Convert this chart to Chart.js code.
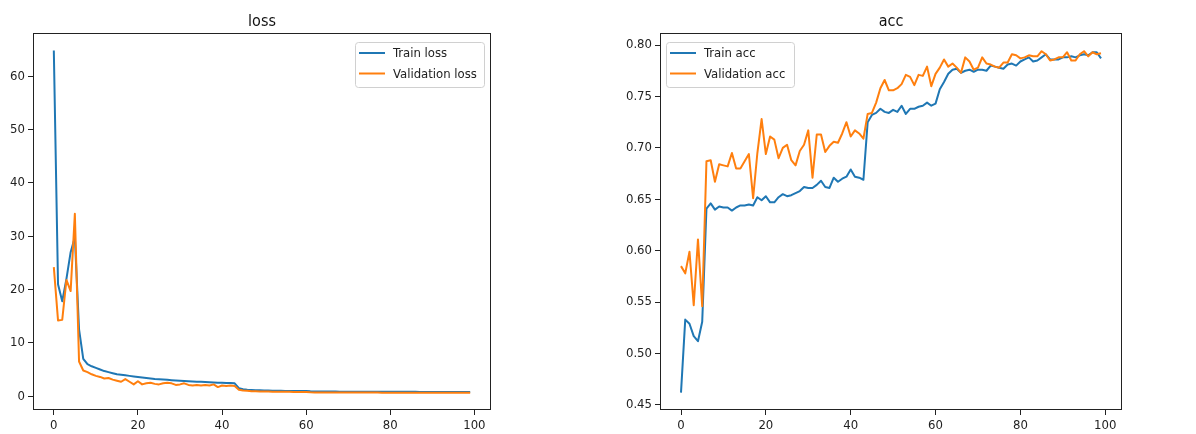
<!DOCTYPE html>
<html>
<head>
<meta charset="utf-8">
<script src="https://cdn.jsdelivr.net/npm/chart.js@4"></script>
<style>
  body { margin: 0; background: #fff; }
  #wrap { position: relative; width: 1196px; height: 434px; }
  canvas { position: absolute; top: 0; }
</style>
</head>
<body>
<div id="wrap">
  <canvas id="lossChart" width="600" height="434" style="left:0"></canvas>
  <canvas id="accChart" width="596" height="434" style="left:600px"></canvas>
</div>
<script>
// epochs 0..99
const epochs = Array.from({ length: 100 }, (_, i) => i);

const trainLoss = [
  64.8, 21.0, 17.8, 22.0, 27.0, 29.8, 12.5, 7.0, 6.0, 5.6,
  5.3, 5.0, 4.7, 4.5, 4.3, 4.1, 4.0, 3.9, 3.8, 3.7,
  3.6, 3.5, 3.4, 3.3, 3.2, 3.15, 3.1, 3.05, 3.0, 2.95,
  2.9, 2.85, 2.8, 2.75, 2.7, 2.7, 2.65, 2.6, 2.55, 2.5,
  2.5, 2.45, 2.45, 2.4, 1.5, 1.3, 1.2, 1.15, 1.1, 1.1,
  1.05, 1.04, 1.02, 1.0, 1.0, 0.98, 0.97, 0.96, 0.95, 0.95,
  0.94, 0.9, 0.88, 0.87, 0.86, 0.86, 0.85, 0.85, 0.84, 0.84,
  0.84, 0.83, 0.83, 0.83, 0.82, 0.82, 0.82, 0.82, 0.81, 0.81,
  0.81, 0.81, 0.8, 0.8, 0.8, 0.8, 0.8, 0.79, 0.79, 0.79,
  0.79, 0.79, 0.79, 0.78, 0.78, 0.78, 0.78, 0.78, 0.78, 0.79
];
const valLoss = [
  24.2, 14.2, 14.3, 21.8, 19.7, 34.2, 6.5, 4.8, 4.5, 4.1,
  3.8, 3.6, 3.3, 3.4, 3.1, 2.9, 2.7, 3.2, 2.7, 2.2,
  2.8, 2.2, 2.4, 2.5, 2.3, 2.2, 2.4, 2.5, 2.4, 2.1,
  2.2, 2.4, 2.1, 2.0, 2.1, 2.0, 2.1, 2.0, 2.2, 1.7,
  2.0, 1.9, 2.0, 1.9, 1.2, 1.05, 1.0, 0.9, 0.9, 0.88,
  0.86, 0.85, 0.84, 0.83, 0.82, 0.8, 0.8, 0.79, 0.78, 0.78,
  0.77, 0.72, 0.7, 0.7, 0.69, 0.69, 0.68, 0.68, 0.68, 0.67,
  0.67, 0.67, 0.67, 0.66, 0.66, 0.66, 0.66, 0.66, 0.65, 0.65,
  0.65, 0.65, 0.65, 0.65, 0.64, 0.64, 0.64, 0.64, 0.64, 0.64,
  0.63, 0.63, 0.63, 0.63, 0.63, 0.63, 0.62, 0.62, 0.62, 0.63
];
const trainAcc = [
  0.462, 0.533, 0.529, 0.517, 0.512, 0.531, 0.641, 0.646, 0.640, 0.643,
  0.642, 0.642, 0.639, 0.642, 0.644, 0.644, 0.645, 0.644, 0.652, 0.649,
  0.653, 0.647, 0.647, 0.652, 0.655, 0.653, 0.654, 0.656, 0.658, 0.662,
  0.661, 0.661, 0.664, 0.668, 0.662, 0.661, 0.671, 0.667, 0.670, 0.672,
  0.679, 0.672, 0.671, 0.669, 0.725, 0.732, 0.734, 0.738, 0.735, 0.734,
  0.737, 0.735, 0.741, 0.733, 0.738, 0.738, 0.740, 0.741, 0.744, 0.741,
  0.743, 0.757, 0.764, 0.772, 0.776, 0.777, 0.773, 0.775, 0.776, 0.774,
  0.776, 0.776, 0.775, 0.780, 0.779, 0.778, 0.777, 0.781, 0.782, 0.780,
  0.784, 0.786, 0.788, 0.784, 0.785, 0.788, 0.791, 0.786, 0.786, 0.786,
  0.788, 0.788, 0.789, 0.788, 0.790, 0.791, 0.790, 0.793, 0.793, 0.787
];
const valAcc = [
  0.585, 0.578, 0.599, 0.547, 0.611, 0.546, 0.687, 0.688, 0.667, 0.684,
  0.683, 0.682, 0.695, 0.680, 0.680, 0.687, 0.694, 0.651, 0.695, 0.728,
  0.694, 0.711, 0.708, 0.690, 0.700, 0.703, 0.688, 0.683, 0.697, 0.703,
  0.717, 0.671, 0.713, 0.713, 0.696, 0.702, 0.706, 0.705, 0.714, 0.725,
  0.711, 0.717, 0.714, 0.709, 0.733, 0.734, 0.744, 0.758, 0.766, 0.756,
  0.756, 0.758, 0.762, 0.771, 0.769, 0.761, 0.771, 0.770, 0.779, 0.760,
  0.772, 0.778, 0.786, 0.779, 0.782, 0.778, 0.773, 0.788, 0.784, 0.776,
  0.778, 0.788, 0.782, 0.781, 0.779, 0.778, 0.783, 0.783, 0.791, 0.790,
  0.787, 0.788, 0.790, 0.789, 0.789, 0.794, 0.791, 0.785, 0.786, 0.788,
  0.788, 0.793, 0.785, 0.785, 0.791, 0.794, 0.789, 0.793, 0.791, 0.792
];

const xTicks = [0, 20, 40, 60, 80, 100];
const lossTicks = [0, 10, 20, 30, 40, 50, 60];
const accTicks = [0.45, 0.50, 0.55, 0.60, 0.65, 0.70, 0.75, 0.80];

const BLUE = '#1f77b4';
const ORANGE = '#ff7f0e';
const FONT = "'DejaVu Sans Condensed', 'DejaVu Sans'";

// box around plot area, title, and matplotlib-like legend
const framePlugin = {
  id: 'frame',
  afterDraw(chart, args, opts) {
    const { ctx, chartArea: a } = chart;
    ctx.save();
    ctx.strokeStyle = '#222';
    ctx.lineWidth = 1;
    ctx.strokeRect(Math.round(a.left) + 0.5, Math.round(a.top) + 0.5,
      Math.round(a.right - a.left) - 1, Math.round(a.bottom - a.top) - 1);

    // title
    ctx.fillStyle = '#111';
    ctx.font = '16px ' + FONT;
    ctx.textAlign = 'center';
    ctx.textBaseline = 'alphabetic';
    ctx.fillText(opts.title, (a.left + a.right) / 2, 26);

    // legend
    const lx = opts.legendX, ly = 42, lw = opts.legendW, lh = 45;
    ctx.beginPath();
    ctx.roundRect(lx + 0.5, ly + 0.5, lw, lh, 3);
    ctx.fillStyle = 'rgba(255,255,255,0.8)';
    ctx.fill();
    ctx.strokeStyle = '#d0d0d0';
    ctx.stroke();
    ctx.font = '13px ' + FONT;
    ctx.textAlign = 'left';
    ctx.textBaseline = 'middle';
    chart.data.datasets.forEach((ds, i) => {
      const y = ly + 11 + i * 20.5;
      ctx.strokeStyle = ds.borderColor;
      ctx.lineWidth = 2;
      ctx.beginPath();
      ctx.moveTo(lx + 4, y);
      ctx.lineTo(lx + 30, y);
      ctx.stroke();
      ctx.fillStyle = '#222';
      ctx.fillText(ds.label, lx + 38, y + 1);
    });
    ctx.restore();
  }
};

function makeChart(id, title, trainData, valData, trainLabel, valLabel, yTicks, yMin, yMax, yWidth, padRight, legendX, legendW, fmt) {
  const tickFont = { family: FONT, size: 13 };
  return new Chart(document.getElementById(id), {
    type: 'line',
    data: {
      datasets: [
        { label: trainLabel, data: epochs.map((e, i) => ({ x: e, y: trainData[i] })),
          borderColor: BLUE, borderWidth: 2, pointRadius: 0, tension: 0, order: 1,
          borderJoinStyle: 'round' },
        { label: valLabel, data: epochs.map((e, i) => ({ x: e, y: valData[i] })),
          borderColor: ORANGE, borderWidth: 2, pointRadius: 0, tension: 0, order: 0,
          borderJoinStyle: 'round' }
      ]
    },
    options: {
      responsive: false,
      animation: false,
      layout: { padding: { top: 33, right: padRight, bottom: 0, left: 0 } },
      plugins: {
        legend: { display: false },
        tooltip: { enabled: false },
        frame: { title: title, legendX: legendX, legendW: legendW }
      },
      scales: {
        x: {
          type: 'linear', min: -4.95, max: 103.95,
          afterBuildTicks: s => { s.ticks = xTicks.map(v => ({ value: v })); },
          afterFit: s => { s.height = 24; },
          border: { display: false },
          grid: { drawOnChartArea: false, drawTicks: true, tickLength: 5, color: '#222' },
          ticks: { font: tickFont, color: '#222', padding: 3, maxRotation: 0, autoSkip: false }
        },
        y: {
          type: 'linear', min: yMin, max: yMax,
          afterBuildTicks: s => { s.ticks = yTicks.map(v => ({ value: v })); },
          afterFit: s => { s.width = yWidth; },
          border: { display: false },
          grid: { drawOnChartArea: false, drawTicks: true, tickLength: 5, color: '#222' },
          ticks: { font: tickFont, color: '#222', padding: 3, callback: fmt }
        }
      }
    },
    plugins: [framePlugin]
  });
}

makeChart('lossChart', 'loss', trainLoss, valLoss, 'Train loss', 'Validation loss',
  lossTicks, -2.6, 68.1, 33, 109, 355, 129, v => String(v));
makeChart('accChart', 'acc', trainAcc, valAcc, 'Train acc', 'Validation acc',
  accTicks, 0.4451, 0.8117, 60, 74, 66, 128, v => v.toFixed(2));
</script>
</body>
</html>
